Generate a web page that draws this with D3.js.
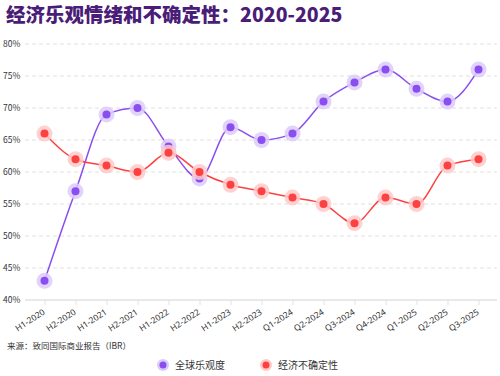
<!DOCTYPE html>
<html lang="zh">
<head>
<meta charset="UTF-8">
<title>经济乐观情绪和不确定性</title>
<script src="https://d3js.org/d3.v7.min.js"></script>
<style>
  body { margin: 0; background: #fff; }
  svg { display: block; font-family: "Noto Sans CJK SC", "Noto Sans", sans-serif; }
</style>
</head>
<body>
<svg id="chart" width="500" height="376"></svg>
<script>
// data
const periods = ["H1-2020", "H2-2020", "H1-2021", "H2-2021", "H1-2022", "H2-2022", "H1-2023", "H2-2023",
  "Q1-2024", "Q2-2024", "Q3-2024", "Q4-2024", "Q1-2025", "Q2-2025", "Q3-2025"];
const optimism = [43, 57, 69, 70, 64, 59, 67, 65, 66, 71, 74, 76, 73, 71, 76];
const uncertainty = [66, 62, 61, 60, 63, 60, 58, 57, 56, 55, 52, 56, 55, 61, 62];
const yTicks = [40, 45, 50, 55, 60, 65, 70, 75, 80];

const seriesList = [
  { name: "全球乐观度", values: optimism, color: "#8a4df0", halo: "#dccbfa" },
  { name: "经济不确定性", values: uncertainty, color: "#ff4040", halo: "#ffc9c9" }
];

const svg = d3.select("#chart");
const plotLeft = 29, plotRight = 494, plotTop = 44, plotBottom = 300;

const x = d3.scalePoint().domain(periods).range([plotLeft, plotRight]).padding(0.5);
const y = d3.scaleLinear().domain([40, 80]).range([plotBottom, plotTop]);

// title
svg.append("text")
  .attr("x", 6).attr("y", 22)
  .attr("font-size", 19.5).attr("font-weight", 900)
  .attr("fill", "#4a1d78")
  .text("经济乐观情绪和不确定性：2020-2025");

// grid lines
svg.append("g").selectAll("line")
  .data(yTicks.filter(d => d > 40))
  .join("line")
  .attr("x1", 25).attr("x2", 497)
  .attr("y1", d => y(d)).attr("y2", d => y(d))
  .attr("stroke", "#e0e0e0").attr("stroke-dasharray", "4,3");

// y labels
svg.append("g").selectAll("text")
  .data(yTicks)
  .join("text")
  .attr("x", 3).attr("y", d => y(d) + 3)
  .attr("font-size", 8.5).attr("fill", "#333")
  .text(d => d + "%");

// x axis
const xAxis = svg.append("g")
  .attr("transform", `translate(0,${plotBottom})`)
  .call(d3.axisBottom(x).tickSize(5).tickSizeOuter(0));
xAxis.select(".domain").attr("stroke", "#e2e2e2").attr("stroke-width", 1.5)
  .attr("d", `M25,0H497`);
xAxis.selectAll(".tick line").attr("stroke", "#e2e2e2");
xAxis.selectAll(".tick text")
  .attr("font-size", 8.5).attr("fill", "#333")
  .attr("font-family", "'Noto Sans', sans-serif")
  .attr("text-anchor", "end")
  .attr("y", 0)
  .attr("dy", "0.35em")
  .attr("transform", "translate(-1,11) rotate(-33)");

// lines + markers
const line = d3.line()
  .x((d, i) => x(periods[i]))
  .y(d => y(d))
  .curve(d3.curveMonotoneX);

seriesList.forEach(s => {
  svg.append("path")
    .datum(s.values)
    .attr("fill", "none")
    .attr("stroke", s.color)
    .attr("stroke-width", 1.5)
    .attr("d", line);
});

seriesList.forEach(s => {
  const g = svg.append("g");
  g.selectAll("circle.halo")
    .data(s.values)
    .join("circle")
    .attr("class", "halo")
    .attr("cx", (d, i) => x(periods[i])).attr("cy", d => y(d))
    .attr("r", 8).attr("fill", s.halo).attr("opacity", 0.85);
  g.selectAll("circle.dot")
    .data(s.values)
    .join("circle")
    .attr("class", "dot")
    .attr("cx", (d, i) => x(periods[i])).attr("cy", d => y(d))
    .attr("r", 4).attr("fill", s.color);
});

// source
svg.append("text")
  .attr("x", 7).attr("y", 349)
  .attr("font-size", 8.5).attr("fill", "#333")
  .text("来源：致同国际商业报告（IBR）");

// legend
const legendX = [163, 266];
seriesList.forEach((s, i) => {
  const g = svg.append("g").attr("transform", `translate(${legendX[i]},365)`);
  g.append("circle").attr("r", 6).attr("fill", s.halo);
  g.append("circle").attr("r", 3.5).attr("fill", s.color);
  g.append("text").attr("x", 12).attr("y", 4)
    .attr("font-size", 10).attr("fill", "#333")
    .text(s.name);
});
</script>
</body>
</html>
